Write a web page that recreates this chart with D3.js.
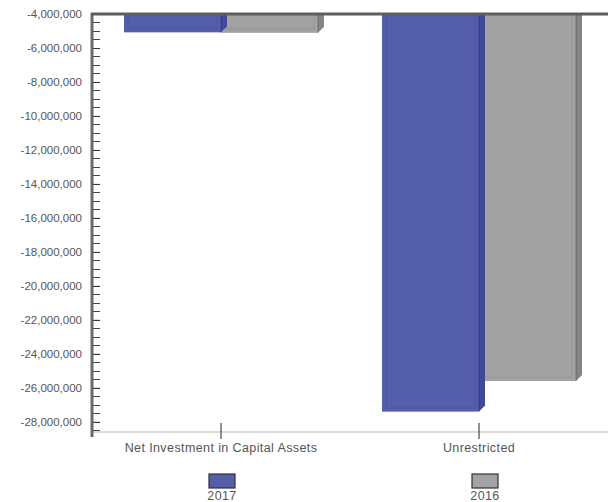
<!DOCTYPE html>
<html>
<head>
<meta charset="utf-8">
<script src="https://cdn.jsdelivr.net/npm/d3@7"></script>
<style>
  html, body { margin: 0; padding: 0; background: #fff; }
  svg { display: block; font-family: "Liberation Sans", Arial, sans-serif; }
</style>
</head>
<body>
<svg id="chart" width="608" height="502"></svg>
<script>
// Net position components, two fiscal years
const categories = ["Net Investment in Capital Assets", "Unrestricted"];
const seriesNames = ["2017", "2016"];
const values2017 = [-5080000, -27400000];
const values2016 = [-5110000, -25600000];
const yTicks = [-4000000, -6000000, -8000000, -10000000, -12000000, -14000000,
  -16000000, -18000000, -20000000, -22000000, -24000000, -26000000, -28000000];

const colors = { "2017": "#545eab", "2016": "#a2a2a2" };
const sideColors = { "2017": "#414a96", "2016": "#858585" };

const svg = d3.select("#chart");
const plotLeft = 92, plotRight = 608, plotTop = 14, plotBottom = 432;
const depth = 6;

const y = d3.scaleLinear().domain([-4000000, -28600000]).range([plotTop, plotBottom]);
const x = d3.scaleBand().domain(categories).range([plotLeft, plotRight]);
const xs = d3.scaleBand().domain(seriesNames)
  .range([32, x.bandwidth() - 32]);

const rows = categories.map((c, i) => ({ cat: c, "2017": values2017[i], "2016": values2016[i] }));

// clip so the 3D tops stay under the baseline
svg.append("defs").append("clipPath").attr("id", "plotClip")
  .append("rect").attr("x", plotLeft).attr("y", plotTop)
  .attr("width", plotRight - plotLeft).attr("height", plotBottom - plotTop);

const plot = svg.append("g").attr("clip-path", "url(#plotClip)");

// draw 2016 first so 2017 side faces sit over it
const order = ["2016", "2017"];
rows.forEach(r => {
  order.forEach(s => {
    const x0 = x(r.cat) + xs(s);
    const w = xs.bandwidth();
    const y0 = y(-4000000);
    const y1 = y(r[s]);
    const g = plot.append("g");
    // side face
    g.append("path")
      .attr("d", `M${x0 + w},${y1} L${x0 + w + depth},${y1 - depth} L${x0 + w + depth},${y0 - depth} L${x0 + w},${y0} Z`)
      .attr("fill", sideColors[s]);
    // front face
    g.append("rect")
      .attr("x", x0).attr("y", y0)
      .attr("width", w).attr("height", y1 - y0)
      .attr("fill", colors[s]);
    // soft inner bevel
    g.append("rect")
      .attr("x", x0 + 4).attr("y", y0)
      .attr("width", Math.max(0, w - 8)).attr("height", Math.max(0, y1 - y0 - 4))
      .attr("fill", "none")
      .attr("stroke", "#000").attr("stroke-opacity", 0.04).attr("stroke-width", 2);
    g.append("line")
      .attr("x1", x0 + w).attr("x2", x0 + w)
      .attr("y1", y0).attr("y2", y1)
      .attr("stroke", "#000").attr("stroke-opacity", 0.25);
  });
});

// bottom category axis line
svg.append("line")
  .attr("x1", plotLeft).attr("x2", plotRight)
  .attr("y1", plotBottom).attr("y2", plotBottom)
  .attr("stroke", "#dcdcdc").attr("stroke-width", 2);

// category ticks and labels
categories.forEach(c => {
  const cx = x(c) + x.bandwidth() / 2;
  svg.append("line")
    .attr("x1", cx).attr("x2", cx)
    .attr("y1", plotBottom - 9).attr("y2", plotBottom + 7)
    .attr("stroke", "#222").attr("stroke-width", 1);
  svg.append("text")
    .attr("x", cx).attr("y", plotBottom + 20)
    .attr("text-anchor", "middle")
    .attr("font-size", 12.5).attr("letter-spacing", 0.4).attr("fill", "#555")
    .text(c);
});

// minor ticks every 500,000
const minor = d3.range(-4000000, -28600000, -500000);
svg.append("g").selectAll("line").data(minor).join("line")
  .attr("x1", plotLeft).attr("x2", plotLeft + 8)
  .attr("y1", d => Math.round(y(d)) + 0.5).attr("y2", d => Math.round(y(d)) + 0.5)
  .attr("stroke", "#444").attr("stroke-width", 1);

// value axis, plain hyphen for the minus sign
const fmt = d3.format(",");
const yAxis = d3.axisLeft(y).tickValues(yTicks)
  .tickFormat(d => fmt(d).replace("\u2212", "-")).tickSize(7).tickPadding(3);
const ag = svg.append("g").attr("transform", `translate(${plotLeft},0)`).call(yAxis);
ag.select(".domain").remove();
ag.selectAll(".tick line").attr("x2", 8).attr("stroke", "#333");
ag.selectAll(".tick text")
  .attr("font-size", 11.5).attr("fill", "#555")
  .attr("font-family", "Liberation Sans, Arial, sans-serif");

// axis lines
svg.append("line")
  .attr("x1", plotLeft).attr("x2", plotLeft)
  .attr("y1", plotTop - 1).attr("y2", plotBottom + 5)
  .attr("stroke", "#6a6a6a").attr("stroke-width", 3);
svg.append("line")
  .attr("x1", plotLeft - 1).attr("x2", plotRight)
  .attr("y1", plotTop).attr("y2", plotTop)
  .attr("stroke", "#5e5e5e").attr("stroke-width", 3);

// legend
const legendX = { "2017": 222, "2016": 485 };
seriesNames.forEach(s => {
  svg.append("rect")
    .attr("x", legendX[s] - 13).attr("y", 474)
    .attr("width", 26).attr("height", 14)
    .attr("fill", colors[s]).attr("stroke", "#333").attr("stroke-width", 1.2);
  svg.append("text")
    .attr("x", legendX[s]).attr("y", 500)
    .attr("text-anchor", "middle")
    .attr("font-size", 12.5).attr("letter-spacing", 0.4).attr("fill", "#555")
    .text(s);
});
</script>
</body>
</html>
